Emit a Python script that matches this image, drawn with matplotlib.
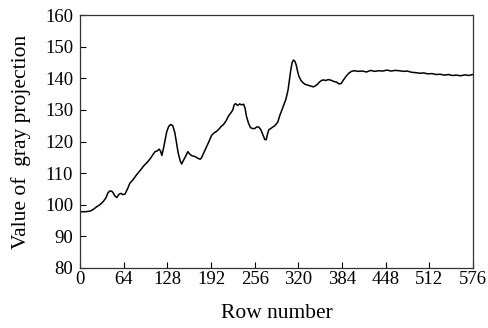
import matplotlib
matplotlib.use("Agg")
import matplotlib.pyplot as plt

row = [0, 8, 15, 20, 24, 29, 34, 38, 41, 44,
       47, 49, 51, 54, 57, 60, 63, 66, 70, 73,
       78, 83, 88, 93, 98, 103, 107, 110, 113, 116,
       118, 120, 123, 127, 130, 133, 136, 139, 142, 144,
       147, 149, 152, 155, 158, 161, 164, 168, 172, 176,
       178, 181, 185, 189, 193, 197, 200, 204, 207, 210,
       214, 218, 221, 224, 226, 228, 231, 234, 237, 240,
       242, 244, 247, 250, 253, 256, 259, 262, 265, 268,
       271, 273, 275, 277, 279, 282, 285, 288, 290, 293,
       296, 299, 302, 305, 307, 309, 311, 313, 315, 317,
       319, 321, 324, 327, 330, 333, 336, 339, 342, 345,
       348, 351, 354, 357, 360, 364, 368, 372, 376, 380,
       383, 386, 390, 394, 398, 402, 408, 414, 420, 426,
       432, 438, 444, 450, 456, 462, 468, 474, 480, 486,
       492, 498, 504, 510, 516, 522, 528, 534, 540, 546,
       552, 558, 564, 570, 576]
gray = [97.8, 97.8, 98.0, 98.6, 99.3, 100.0, 101.0, 102.2, 103.8, 104.4,
        104.2, 103.6, 102.8, 102.3, 103.3, 103.6, 103.2, 103.4, 105.2, 106.8,
        108.0, 109.5, 110.8, 112.2, 113.3, 114.6, 115.9, 116.8, 117.0, 117.6,
        117.0, 115.6, 118.5, 123.0, 124.8, 125.4, 125.0, 122.8, 119.0, 116.3,
        113.8, 112.9, 114.2, 115.4, 116.8, 116.0, 115.5, 115.3, 114.8, 114.4,
        114.8, 116.2, 118.0, 120.0, 122.0, 122.8, 123.2, 124.0, 124.8, 125.3,
        126.5, 128.2, 129.0, 130.0, 131.6, 132.0, 131.4, 131.9, 131.6, 131.8,
        130.5, 128.0, 125.8, 124.4, 124.1, 124.1, 124.6, 124.6, 123.8, 122.2,
        120.6, 120.6, 122.5, 123.8, 124.0, 124.5, 124.9, 125.6, 126.2, 128.3,
        130.0, 131.7, 133.5, 136.3, 139.5, 142.6, 145.0, 145.8, 145.4, 144.2,
        142.2, 140.6, 139.3, 138.6, 138.1, 137.9, 137.7, 137.5, 137.3, 137.6,
        138.1, 138.8, 139.3, 139.5, 139.3, 139.6, 139.4, 139.0, 138.8, 138.2,
        138.4, 139.4, 140.6, 141.6, 142.2, 142.4, 142.2, 142.3, 142.0, 142.5,
        142.2, 142.4, 142.3, 142.6, 142.3, 142.5, 142.4, 142.2, 142.3, 141.9,
        141.8, 141.6, 141.7, 141.4, 141.5, 141.2, 141.3, 141.0, 141.2, 140.9,
        141.0, 140.8, 141.1, 140.9, 141.2]

xticks = [0, 64, 128, 192, 256, 320, 384, 448, 512, 576]
yticks = [80, 90, 100, 110, 120, 130, 140, 150, 160]

plt.rcParams['font.family'] = ['Liberation Serif', 'DejaVu Serif']

fig = plt.figure(figsize=(4.88, 3.28), dpi=100)
ax = fig.add_axes([0.164, 0.183, 0.805, 0.771])
ax.plot(row, gray, color='black', linewidth=1.1)
ax.set_xlim(0, 576)
ax.set_ylim(80, 160)
ax.set_xticks(xticks)
ax.set_yticks(yticks)
ax.tick_params(direction='in', length=4, width=0.8, labelsize=13.5,
               top=False, right=False)
ax.tick_params(axis='x', pad=2)
ax.tick_params(axis='y', pad=5)
for s in ax.spines.values():
    s.set_linewidth(0.9)
    s.set_color('#333333')
ax.set_xlabel('Row number', fontsize=15.5, labelpad=12)
ax.set_ylabel('Value of  gray projection', fontsize=15.5, labelpad=10)
fig.savefig('out.png', dpi=100)
